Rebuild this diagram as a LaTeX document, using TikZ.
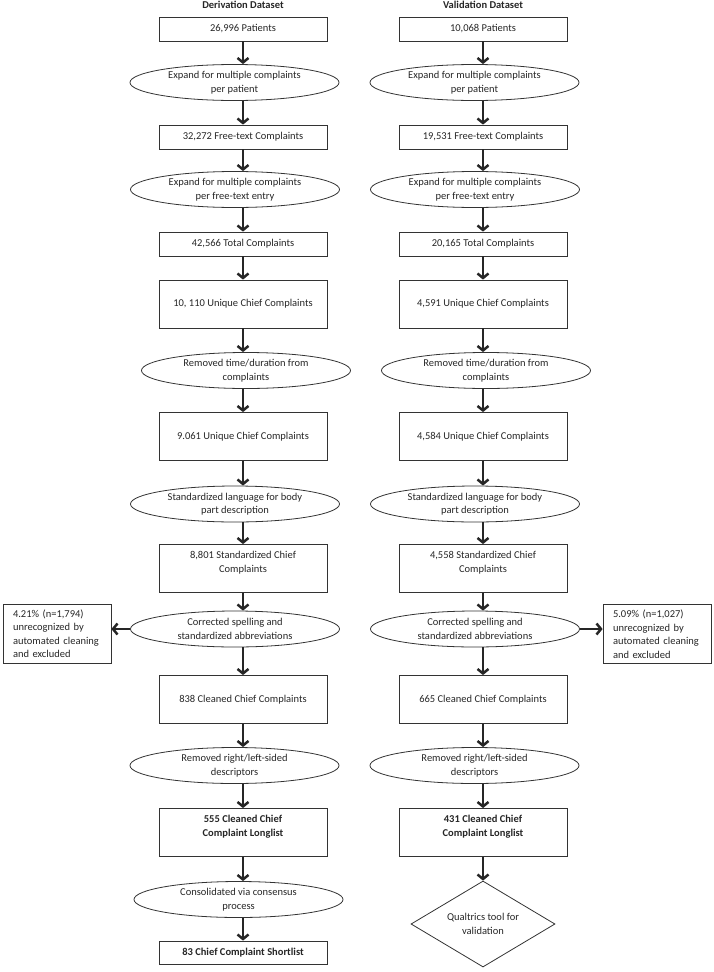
\documentclass[tikz,border=0pt]{standalone}
\usepackage{fontspec}
\setmainfont{Carlito}
\usetikzlibrary{shapes.geometric,arrows.meta}
\begin{document}
\begin{tikzpicture}[x=1pt,y=-1pt,
  every node/.style={font=\fontsize{10.5}{13.5}\selectfont, text=black!85},
  box/.style={draw=black!80, line width=0.8pt, rectangle, minimum width=168pt, inner sep=0pt, align=center},
  bsmall/.style={box, minimum height=24pt},
  btall/.style={box, minimum height=48pt},
  txt/.style={align=center, inner sep=0pt},
  ell/.style={draw=black!80, line width=0.8pt, ellipse, minimum width=209pt, minimum height=36pt, inner sep=0pt, align=center},
  side/.style={draw=black!80, line width=0.8pt, rectangle, text width=88pt, inner xsep=10pt, minimum height=59pt, align=left},
  dia/.style={draw=black!80, line width=0.8pt, diamond, aspect=1.67, minimum width=144pt, minimum height=86pt, inner sep=0pt, align=center},
  arr/.style={draw=black!85, line width=2.5pt, -{Straight Barb[length=4.5pt,width=11pt]}},
  title/.style={font=\fontsize{10.5}{13.5}\selectfont\bfseries, anchor=base},
  bf/.style={font=\fontsize{10.5}{13.5}\selectfont\bfseries}
]
\useasboundingbox (0,0) rectangle (714,972);

% titles
\node[title] (tL) at (243,8) {Derivation Dataset};
\node[title] (tR) at (483,8) {Validation Dataset};

% left column
\node[bsmall] (B1L) at (243,29) {26,996 Patients};
\node[ell] (E1L) at (234.5,82.5) {Expand for multiple complaints\\per patient};
\node[bsmall] (B2L) at (243,137) {32,272 Free-text Complaints};
\node[ell] (E2L) at (235,189.5) {Expand for multiple complaints\\per free-text entry};
\node[bsmall] (B3L) at (243,244) {42,566 Total Complaints};
\node[btall] (B4L) at (243,304) {10, 110 Unique Chief Complaints};
\node[ell] (E3L) at (246,370.5) {Removed time/duration from\\complaints};
\node[btall] (B5L) at (243,436.5) {9.061 Unique Chief Complaints};
\node[ell] (E4L) at (235,504) {Standardized language for body\\part description};
\node[btall] (B6L) at (243,568.5) {};
\node[txt] (B6Lt) at (243,562.5) {8,801 Standardized Chief\\Complaints};
\node[ell] (E5L) at (235,629) {Corrected spelling and\\standardized abbreviations};
\node[btall] (B7L) at (243,699.5) {838 Cleaned Chief Complaints};
\node[ell] (E6L) at (234.5,765.5) {Removed right/left-sided\\descriptors};
\node[btall] (B8L) at (243,832.5) {};
\node[txt, bf] (B8Lt) at (243,826.5) {555 Cleaned Chief\\Complaint Longlist};
\node[ell] (E7L) at (238.5,899.5) {Consolidated via consensus\\process};
\node[box, minimum height=23pt, bf] (B9L) at (243,952.5) {83 Chief Complaint Shortlist};
\node[side] (SL) at (57,633.5) {4.21\% (n=1,794)\\unrecognized by\\automated cleaning\\and excluded};

% right column
\node[bsmall] (B1R) at (483,29) {10,068 Patients};
\node[ell] (E1R) at (474.5,82.5) {Expand for multiple complaints\\per patient};
\node[bsmall] (B2R) at (483,137) {19,531 Free-text Complaints};
\node[ell] (E2R) at (475,189.5) {Expand for multiple complaints\\per free-text entry};
\node[bsmall] (B3R) at (483,244) {20,165 Total Complaints};
\node[btall] (B4R) at (483,304) {4,591 Unique Chief Complaints};
\node[ell] (E3R) at (486,370.5) {Removed time/duration from\\complaints};
\node[btall] (B5R) at (483,436.5) {4,584 Unique Chief Complaints};
\node[ell] (E4R) at (475,504) {Standardized language for body\\part description};
\node[btall] (B6R) at (483,568.5) {};
\node[txt] (B6Rt) at (483,562.5) {4,558 Standardized Chief\\Complaints};
\node[ell] (E5R) at (475,629) {Corrected spelling and\\standardized abbreviations};
\node[btall] (B7R) at (483,699.5) {665 Cleaned Chief Complaints};
\node[ell] (E6R) at (474.5,765.5) {Removed right/left-sided\\descriptors};
\node[btall] (B8R) at (483,832.5) {};
\node[txt, bf] (B8Rt) at (483,826.5) {431 Cleaned Chief\\Complaint Longlist};
\node[dia] (DR) at (483,924) {Qualtrics tool for\\validation};
\node[side] (SR) at (657,634) {5.09\% (n=1,027)\\unrecognized by\\automated cleaning\\and excluded};

% arrows
\foreach \s in {L,R}{
  \draw[arr] (B1\s.south) -- (B1\s.south |- E1\s.north);
  \draw[arr] (B2\s.north |- E1\s.south) -- (B2\s.north);
  \draw[arr] (B2\s.south) -- (B2\s.south |- E2\s.north);
  \draw[arr] (B3\s.north |- E2\s.south) -- (B3\s.north);
  \draw[arr] (B3\s.south) -- (B4\s.north);
  \draw[arr] (B4\s.south) -- (B4\s.south |- E3\s.north);
  \draw[arr] (B5\s.north |- E3\s.south) -- (B5\s.north);
  \draw[arr] (B5\s.south) -- (B5\s.south |- E4\s.north);
  \draw[arr] (B6\s.north |- E4\s.south) -- (B6\s.north);
  \draw[arr] (B6\s.south) -- (B6\s.south |- E5\s.north);
  \draw[arr] (B7\s.north |- E5\s.south) -- (B7\s.north);
  \draw[arr] (B7\s.south) -- (B7\s.south |- E6\s.north);
  \draw[arr] (B8\s.north |- E6\s.south) -- (B8\s.north);
}
\draw[arr] (B8L.south) -- (B8L.south |- E7L.north);
\draw[arr] (B9L.north |- E7L.south) -- (B9L.north);
\draw[arr] (B8R.south) -- (DR.north);
\draw[arr] (E5L.west) -- (E5L.west -| SL.east);
\draw[arr] (E5R.east) -- (E5R.east -| SR.west);
\end{tikzpicture}
\end{document}
